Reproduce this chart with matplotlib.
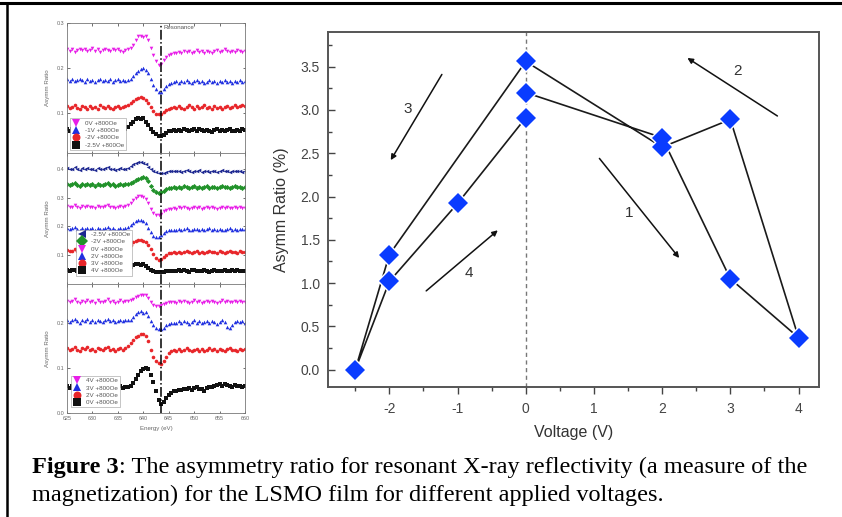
import numpy as np
import matplotlib
matplotlib.use("Agg")
import matplotlib.pyplot as plt
from matplotlib.lines import Line2D
from matplotlib.ticker import MultipleLocator

plt.rcParams['font.family'] = ['Liberation Sans', 'DejaVu Sans']
plt.rcParams['axes.unicode_minus'] = False

# asymmetry ratio (%) in the order the voltages were applied
voltage = [0, 2, 3, 4, 3, 2, 0, -2, -2.5, -2, -1, 0]
asymm = [3.20, 2.68, 1.05, 0.37, 2.89, 2.57, 3.56, 1.33, 0.0, 1.02, 1.92, 2.91]

# arrows showing the sweep direction: (tail, head, label position)
sweep_arrows = {
    '1': ((1.08, 2.44), (2.25, 1.29), (1.51, 1.81)),
    '2': ((3.69, 2.93), (2.37, 3.60), (3.10, 3.45)),
    '3': ((-1.23, 3.41), (-1.98, 2.42), (-1.73, 3.01)),
    '4': ((-1.46, 0.91), (-0.41, 1.61), (-0.83, 1.12)),
}

resonance = 643.5

# asymmetry spectra, 625-660 eV in 0.5 eV steps
top_0V = [0.242, 0.238, 0.241, 0.236, 0.240, 0.243, 0.239, 0.241, 0.237, 0.240, 0.244, 0.238,
          0.241, 0.236, 0.239, 0.242, 0.240, 0.237, 0.243, 0.239, 0.241, 0.238, 0.236, 0.240,
          0.241, 0.245, 0.252, 0.262, 0.270, 0.272, 0.268, 0.271, 0.262, 0.245, 0.228, 0.215,
          0.206, 0.209, 0.218, 0.224, 0.228, 0.230, 0.234,
          0.232, 0.236, 0.233, 0.237, 0.235, 0.238, 0.234, 0.236, 0.239, 0.235, 0.237, 0.234,
          0.238, 0.236, 0.233, 0.237, 0.240, 0.236, 0.238, 0.241, 0.237, 0.235, 0.238, 0.236,
          0.239, 0.237, 0.235, 0.238]
top_m1V = [0.174, 0.171, 0.175, 0.170, 0.173, 0.176, 0.172, 0.169, 0.174, 0.171, 0.173, 0.168,
           0.172, 0.175, 0.170, 0.173, 0.171, 0.174, 0.169, 0.172, 0.175, 0.171, 0.173, 0.170,
           0.173, 0.176, 0.182, 0.189, 0.194, 0.197, 0.199, 0.196, 0.188, 0.175, 0.162, 0.152,
           0.146, 0.147, 0.153, 0.159, 0.164, 0.166, 0.168,
           0.170, 0.167, 0.171, 0.168, 0.172, 0.169, 0.166, 0.170, 0.173, 0.168, 0.171, 0.167,
           0.169, 0.172, 0.168, 0.170, 0.166, 0.171, 0.169, 0.173, 0.168, 0.170, 0.167, 0.171,
           0.169, 0.172, 0.168, 0.170]
top_m2V = [0.114, 0.110, 0.113, 0.117, 0.111, 0.109, 0.114, 0.112, 0.108, 0.115, 0.111, 0.113,
           0.109, 0.116, 0.112, 0.110, 0.114, 0.111, 0.108, 0.113, 0.115, 0.110, 0.112, 0.114,
           0.116, 0.121, 0.126, 0.130, 0.133, 0.134, 0.132, 0.129, 0.122, 0.112, 0.103, 0.098,
           0.096, 0.098, 0.102, 0.106, 0.108, 0.110, 0.112,
           0.110, 0.114, 0.111, 0.108, 0.113, 0.116, 0.112, 0.109, 0.114, 0.111, 0.113, 0.117,
           0.110, 0.112, 0.108, 0.114, 0.111, 0.113, 0.109, 0.112, 0.115, 0.111, 0.113, 0.116,
           0.112, 0.114, 0.118, 0.115]
top_m2p5V = [0.063, 0.060, 0.064, 0.061, 0.059, 0.063, 0.062, 0.058, 0.061, 0.064, 0.060, 0.062,
             0.059, 0.063, 0.061, 0.058, 0.062, 0.064, 0.060, 0.061, 0.063, 0.059, 0.062, 0.064,
             0.068, 0.074, 0.080, 0.086, 0.088, 0.085, 0.087, 0.080, 0.072, 0.064, 0.057, 0.052,
             0.049, 0.047, 0.051, 0.055, 0.058, 0.060, 0.061,
             0.059, 0.062, 0.060, 0.063, 0.061, 0.058, 0.062, 0.064, 0.060, 0.063, 0.061, 0.059,
             0.062, 0.060, 0.057, 0.061, 0.063, 0.060, 0.062, 0.059, 0.061, 0.063, 0.060, 0.058,
             0.062, 0.060, 0.063, 0.061]

mid_m2p5V = [0.402, 0.398, 0.401, 0.405, 0.399, 0.396, 0.402, 0.400, 0.404, 0.398, 0.401, 0.397,
             0.403, 0.400, 0.398, 0.402, 0.405, 0.399, 0.401, 0.397, 0.400, 0.403, 0.399, 0.401,
             0.404, 0.410, 0.416, 0.420, 0.423, 0.424, 0.421, 0.416, 0.408, 0.399, 0.392, 0.388,
             0.385, 0.384, 0.387, 0.389, 0.391, 0.392, 0.393,
             0.391, 0.394, 0.390, 0.393, 0.396, 0.392, 0.389, 0.393, 0.391, 0.395, 0.390, 0.392,
             0.394, 0.389, 0.393, 0.391, 0.388, 0.392, 0.395, 0.391, 0.393, 0.390, 0.392, 0.394,
             0.391, 0.393, 0.390, 0.392]
mid_m2V = [0.347, 0.343, 0.346, 0.350, 0.344, 0.341, 0.347, 0.345, 0.349, 0.343, 0.346, 0.342,
           0.348, 0.345, 0.343, 0.347, 0.350, 0.344, 0.346, 0.342, 0.345, 0.348, 0.344, 0.346,
           0.347, 0.351, 0.356, 0.361, 0.365, 0.369, 0.371, 0.368, 0.358, 0.342, 0.328, 0.320,
           0.316, 0.318, 0.324, 0.329, 0.332, 0.334, 0.336,
           0.334, 0.338, 0.335, 0.339, 0.336, 0.333, 0.337, 0.340, 0.335, 0.338, 0.334, 0.337,
           0.339, 0.335, 0.338, 0.336, 0.333, 0.337, 0.340, 0.336, 0.338, 0.335, 0.337, 0.339,
           0.336, 0.338, 0.335, 0.337]
mid_0V = [0.270, 0.266, 0.269, 0.273, 0.267, 0.264, 0.270, 0.268, 0.272, 0.266, 0.269, 0.265,
          0.271, 0.268, 0.266, 0.270, 0.273, 0.267, 0.269, 0.265, 0.268, 0.271, 0.267, 0.270,
          0.274, 0.282, 0.292, 0.300, 0.305, 0.307, 0.303, 0.295, 0.280, 0.262, 0.248, 0.240,
          0.239, 0.244, 0.252, 0.257, 0.260, 0.262, 0.264,
          0.262, 0.266, 0.263, 0.267, 0.264, 0.261, 0.265, 0.268, 0.263, 0.266, 0.262, 0.265,
          0.267, 0.263, 0.266, 0.264, 0.261, 0.265, 0.268, 0.264, 0.266, 0.263, 0.265, 0.267,
          0.264, 0.266, 0.263, 0.265]
mid_2V = [0.194, 0.190, 0.193, 0.197, 0.191, 0.188, 0.194, 0.192, 0.196, 0.190, 0.193, 0.189,
          0.195, 0.192, 0.190, 0.194, 0.197, 0.191, 0.193, 0.189, 0.192, 0.195, 0.191, 0.194,
          0.197, 0.204, 0.212, 0.219, 0.222, 0.224, 0.220, 0.211, 0.196, 0.180, 0.168, 0.162,
          0.163, 0.170, 0.178, 0.183, 0.186, 0.188, 0.189,
          0.188, 0.191, 0.187, 0.190, 0.193, 0.189, 0.186, 0.190, 0.192, 0.188, 0.191, 0.187,
          0.190, 0.193, 0.189, 0.191, 0.188, 0.192, 0.189, 0.187, 0.191, 0.193, 0.189, 0.190,
          0.188, 0.192, 0.190, 0.191]
mid_3V = [0.117, 0.113, 0.116, 0.120, 0.114, 0.111, 0.117, 0.115, 0.119, 0.113, 0.116, 0.112,
          0.118, 0.115, 0.113, 0.117, 0.120, 0.114, 0.116, 0.112, 0.115, 0.118, 0.114, 0.117,
          0.124, 0.135, 0.145, 0.151, 0.153, 0.152, 0.150, 0.146, 0.136, 0.120, 0.103, 0.090,
          0.084, 0.086, 0.094, 0.101, 0.106, 0.108, 0.110,
          0.109, 0.112, 0.108, 0.111, 0.114, 0.110, 0.107, 0.111, 0.113, 0.109, 0.112, 0.108,
          0.111, 0.114, 0.110, 0.112, 0.109, 0.113, 0.110, 0.108, 0.112, 0.114, 0.110, 0.111,
          0.109, 0.113, 0.111, 0.112]
mid_4V = [0.049, 0.046, 0.050, 0.047, 0.045, 0.049, 0.048, 0.044, 0.047, 0.050, 0.046, 0.048,
          0.045, 0.049, 0.047, 0.044, 0.048, 0.050, 0.046, 0.047, 0.049, 0.045, 0.048, 0.050,
          0.054, 0.060, 0.066, 0.068, 0.069, 0.067, 0.068, 0.063, 0.056, 0.050, 0.045, 0.042,
          0.040, 0.040, 0.042, 0.044, 0.045, 0.046, 0.046,
          0.045, 0.048, 0.044, 0.047, 0.045, 0.043, 0.047, 0.049, 0.045, 0.046, 0.044, 0.047,
          0.045, 0.043, 0.046, 0.048, 0.044, 0.046, 0.045, 0.047, 0.044, 0.046, 0.048, 0.045,
          0.047, 0.044, 0.046, 0.045]

bot_4V = [0.250, 0.246, 0.249, 0.253, 0.247, 0.244, 0.250, 0.248, 0.252, 0.246, 0.249, 0.245,
          0.251, 0.248, 0.246, 0.250, 0.253, 0.247, 0.249, 0.245, 0.248, 0.251, 0.247, 0.250,
          0.249, 0.251, 0.254, 0.257, 0.260, 0.262, 0.263, 0.262, 0.256, 0.248, 0.241, 0.239,
          0.238, 0.240, 0.243, 0.245, 0.246, 0.247, 0.247,
          0.245, 0.249, 0.246, 0.250, 0.247, 0.244, 0.248, 0.251, 0.246, 0.249, 0.245, 0.248,
          0.250, 0.246, 0.249, 0.247, 0.244, 0.248, 0.251, 0.247, 0.249, 0.246, 0.248, 0.250,
          0.247, 0.249, 0.246, 0.248]
bot_3V = [0.207, 0.203, 0.206, 0.210, 0.204, 0.201, 0.207, 0.205, 0.209, 0.203, 0.206, 0.202,
          0.208, 0.205, 0.203, 0.207, 0.210, 0.204, 0.206, 0.202, 0.205, 0.208, 0.204, 0.207,
          0.206, 0.208, 0.214, 0.220, 0.224, 0.226, 0.223, 0.224, 0.215, 0.204, 0.195, 0.190,
          0.187, 0.186, 0.190, 0.195, 0.198, 0.200, 0.201,
          0.200, 0.204, 0.201, 0.205, 0.202, 0.199, 0.203, 0.206, 0.201, 0.204, 0.200, 0.203,
          0.205, 0.201, 0.204, 0.202, 0.199, 0.203, 0.206, 0.202, 0.192, 0.189, 0.196, 0.203,
          0.205, 0.202, 0.204, 0.201]
bot_2V = [0.144, 0.140, 0.143, 0.147, 0.141, 0.138, 0.144, 0.142, 0.146, 0.140, 0.143, 0.139,
          0.145, 0.142, 0.140, 0.144, 0.147, 0.141, 0.143, 0.139, 0.142, 0.145, 0.141, 0.144,
          0.148, 0.155, 0.162, 0.168, 0.172, 0.175, 0.176, 0.172, 0.160, 0.140, 0.124, 0.116,
          0.112, 0.110, 0.116, 0.125, 0.133, 0.138, 0.140,
          0.139, 0.142, 0.138, 0.141, 0.144, 0.140, 0.137, 0.141, 0.143, 0.139, 0.142, 0.138,
          0.141, 0.144, 0.140, 0.142, 0.139, 0.143, 0.140, 0.138, 0.142, 0.144, 0.140, 0.141,
          0.139, 0.143, 0.141, 0.142]
bot_0V = [0.060, 0.056, 0.059, 0.062, 0.057, 0.055, 0.060, 0.058, 0.061, 0.056, 0.059, 0.055,
          0.061, 0.058, 0.056, 0.060, 0.062, 0.057, 0.059, 0.055, 0.058, 0.061, 0.056, 0.058,
          0.057, 0.060, 0.066, 0.075, 0.085, 0.093, 0.099, 0.101, 0.097, 0.085, 0.068, 0.048,
          0.028, 0.019, 0.024, 0.033, 0.040, 0.045, 0.048,
          0.050, 0.052, 0.051, 0.054, 0.053, 0.056, 0.052, 0.055, 0.057, 0.054, 0.053, 0.050,
          0.055, 0.058, 0.057, 0.060, 0.062, 0.064, 0.061, 0.065, 0.063, 0.060, 0.058, 0.062,
          0.059, 0.061, 0.057, 0.059]

MAG, BLU, RED, BLK = '#e81ee8', '#1f2fe0', '#e8262a', '#111111'
NAVY, GRN = '#1c2690', '#21922a'

panels = [
    dict(ylim=(0.01, 0.30), yticks=[0.1, 0.2, 0.3],
         series=[('0V +800Oe', top_0V, MAG, 'v'), ('-1V +800Oe', top_m1V, BLU, '^'),
                 ('-2V +800Oe', top_m2V, RED, 'o'), ('-2.5V +800Oe', top_m2p5V, BLK, 's')],
         leg_anchor=(0.0, 0.0)),
    dict(ylim=(0.0, 0.455), yticks=[0.1, 0.2, 0.3, 0.4],
         series=[('-2.5V +800Oe', mid_m2p5V, NAVY, '<'), ('-2V +800Oe', mid_m2V, GRN, 'D'),
                 ('0V +800Oe', mid_0V, MAG, 'v'), ('2V +800Oe', mid_2V, BLU, '^'),
                 ('3V +800Oe', mid_3V, RED, 'o'), ('4V +800Oe', mid_4V, BLK, 's')],
         leg_anchor=(0.035, 0.04)),
    dict(ylim=(0.0, 0.287), yticks=[0.0, 0.1, 0.2],
         series=[('4V +800Oe', bot_4V, MAG, 'v'), ('3V +800Oe', bot_3V, BLU, '^'),
                 ('2V +800Oe', bot_2V, RED, 'o'), ('0V +800Oe', bot_0V, BLK, 's')],
         leg_anchor=(0.005, 0.02)),
]

W, H = 842, 517
fig = plt.figure(figsize=(W / 100, H / 100), dpi=100)

# ---- stacked spectra on the left ----
rows = [(23, 153), (153, 284), (284, 413)]
for i, (p, (y0, y1)) in enumerate(zip(panels, rows)):
    ax = fig.add_axes([67 / W, 1 - y1 / H, 178 / W, (y1 - y0) / H])
    for label, vals, col, mk in p['series']:
        e = np.linspace(625, 660, len(vals))
        ax.plot(e, vals, linestyle='none', marker=mk, ms=2.6, color=col,
                markeredgewidth=0, label=label)
    ax.axvline(resonance, color='black', lw=1.1, ls='-.')
    ax.set_xlim(625, 660)
    ax.set_ylim(*p['ylim'])
    ax.set_yticks(p['yticks'])
    ax.set_yticklabels(['%.1f' % t for t in p['yticks']])
    ax.set_xticks(np.arange(625, 661, 5))
    ax.tick_params(labelsize=3.9, length=1.8, width=0.4, direction='in',
                   top=True, right=True, labelcolor='#666', pad=2)
    if i < 2:
        ax.tick_params(labelbottom=False)
    for s in ax.spines.values():
        s.set_color('#777')
        s.set_linewidth(0.6)
    ax.set_ylabel('Asymm Ratio', fontsize=4.4, color='#666', labelpad=5)
    leg = ax.legend(loc='lower left', bbox_to_anchor=p['leg_anchor'], fontsize=4.5,
                    markerscale=2.2, handlelength=1.2, handletextpad=0.8,
                    labelspacing=0.3, borderpad=0.35, fancybox=False,
                    framealpha=1, edgecolor='#999')
    leg.get_frame().set_linewidth(0.4)
    for t in leg.get_texts():
        t.set_color('#555')
    if i == 0:
        ax.text(resonance + 0.4, 0.29, 'Resonance', fontsize=4.4, color='#555',
                va='center', ha='left')
    if i == 2:
        ax.set_xlabel('Energy (eV)', fontsize=4.4, color='#666', labelpad=4)

# ---- asymmetry ratio vs voltage ----
ax = fig.add_axes([328 / W, 1 - 387 / H, 491 / W, 355 / H])
ax.axvline(0, color='#777', lw=1.0, ls=(0, (3, 2.5)), zorder=1)
ax.plot(voltage, asymm, color='#1a1a1a', lw=1.2, zorder=2)
# white halo under each symbol leaves a small gap where the lines meet it
ax.plot(voltage, asymm, linestyle='none', marker='D', ms=12.5, color='white',
        markeredgewidth=0, zorder=3)
ax.plot(voltage, asymm, linestyle='none', marker='D', ms=10, color='#0a3cff',
        markeredgewidth=0, zorder=4)
for lab, (tail, head, pos) in sweep_arrows.items():
    ax.annotate('', xy=head, xytext=tail,
                arrowprops=dict(arrowstyle='-|>', color='#111', lw=1.1, mutation_scale=8,
                                shrinkA=0, shrinkB=0))
    ax.text(pos[0], pos[1], lab, fontsize=11, color='#333', ha='center', va='center')

ax.set_xlim(-2.9, 4.3)
ax.set_ylim(-0.2, 3.9)
ax.set_xticks([-2, -1, 0, 1, 2, 3, 4])
ax.set_yticks(np.arange(0, 3.51, 0.5))
ax.set_yticklabels(['%.1f' % v for v in np.arange(0, 3.51, 0.5)])
ax.xaxis.set_minor_locator(MultipleLocator(0.5))
ax.yaxis.set_minor_locator(MultipleLocator(0.25))
ax.tick_params(axis='x', which='both', direction='out', labelsize=10, colors='#444', pad=6)
ax.tick_params(axis='y', which='both', direction='in', labelsize=10, colors='#444', pad=6)
ax.tick_params(which='major', length=5, width=1.0)
ax.tick_params(which='minor', length=3, width=1.0)
for s in ax.spines.values():
    s.set_color('#555')
    s.set_linewidth(1.4)
ax.set_xlabel('Voltage (V)', fontsize=11.5, color='#333', labelpad=6)
ax.set_ylabel('Asymm Ratio (%)', fontsize=11.5, color='#333', labelpad=8)

# ---- frame lines ----
fig.add_artist(Line2D([0, 1], [1 - 3 / H] * 2, transform=fig.transFigure, color='black', lw=2.2))
fig.add_artist(Line2D([7 / W] * 2, [0, 1 - 3 / H], transform=fig.transFigure, color='black', lw=1.8))

# ---- caption ----
serif = ['Liberation Serif', 'DejaVu Serif']
x0 = 32 / W
t1 = fig.text(x0, 1 - 467 / H, 'Figure 3', fontsize=17.5, family=serif,
              fontweight='bold', va='center', ha='left')
fig.canvas.draw()
bb = t1.get_window_extent(fig.canvas.get_renderer())
fig.text(bb.x1 / W, 1 - 467 / H,
         ': The asymmetry ratio for resonant X-ray reflectivity (a measure of the',
         fontsize=17.5, family=serif, va='center', ha='left')
fig.text(x0, 1 - 495 / H, 'magnetization) for the LSMO film for different applied voltages.',
         fontsize=17.5, family=serif, va='center', ha='left')

fig.savefig('out.png', dpi=100)
